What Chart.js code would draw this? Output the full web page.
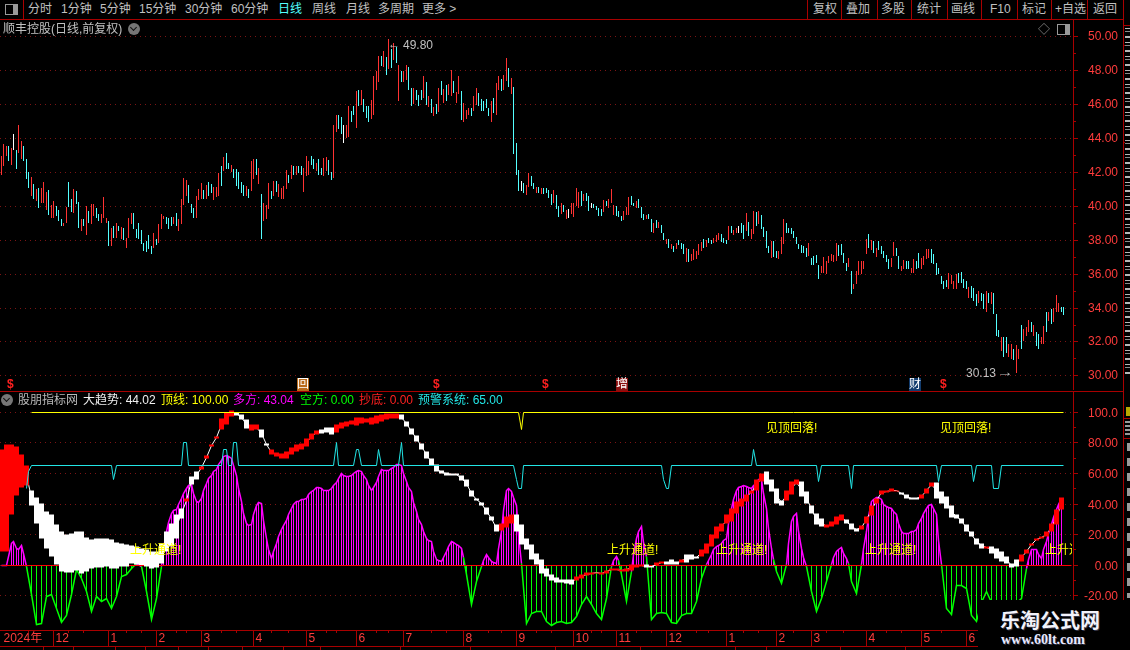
<!DOCTYPE html>
<html>
<head>
<meta charset="utf-8">
<script src="https://cdn.jsdelivr.net/npm/chart.js@4/dist/chart.umd.min.js"></script>
<style>
html, body { margin: 0; padding: 0; background: #000; overflow: hidden; }
#page { position: relative; width: 1130px; height: 650px; background: #000; overflow: hidden;
  font: 12px "Liberation Sans", "Noto Sans CJK SC", sans-serif; color: #c0c0c0; }
#page canvas { position: absolute; left: 0; }
.t { position: absolute; white-space: nowrap; line-height: 14px; }
.ln { position: absolute; background: #a80000; }
.dot { position: absolute; width: 12px; height: 12px; border-radius: 6px; background: #767676; }
.dot:after { content: ""; position: absolute; left: 3px; top: 2px; width: 4px; height: 4px;
  border-right: 1px solid #111; border-bottom: 1px solid #111; transform: rotate(45deg); }
.tag { position: absolute; width: 12px; height: 13px; line-height: 13px; text-align: center; color: #fff; }
#plotText { position: absolute; left: 0; top: 392px; width: 1072px; height: 238px; overflow: hidden; }
#mark { position: absolute; left: 978px; top: 600px; width: 152px; height: 50px; background: #000; }
</style>
</head>
<body>
<div id="page">
  <canvas id="priceChart" width="1118" height="370" style="top:20px"></canvas>
  <canvas id="indicatorChart" width="1118" height="254" style="top:392px"></canvas>
  <div id="plotText"></div>
</div>
<script>
// price panel, one entry per trading day
var priceHigh = [
42.92,43.61,43.55,43.51,43.41,44.20,43.27,44.78,43.84,43.51,
42.73,41.98,41.67,41.29,40.96,41.06,41.06,41.39,40.80,40.90,
40.02,40.27,39.98,39.73,39.20,39.00,39.92,41.39,40.37,40.96,
40.86,40.22,39.20,39.24,39.98,39.69,40.08,40.12,39.88,39.49,
39.49,40.51,39.29,39.10,38.71,38.80,39.00,38.80,38.76,38.67,
38.12,39.25,39.59,39.59,38.61,38.96,38.57,37.78,37.90,38.25,37.63,
38.37,38.06,38.90,39.49,39.39,39.35,39.29,39.33,39.35,39.59,
39.20,40.37,41.65,41.51,41.25,40.08,39.84,40.57,41.00,41.35,
40.92,41.20,41.41,41.29,41.12,41.12,41.90,42.37,42.88,43.12,
42.49,42.39,42.14,42.18,41.98,41.41,41.20,41.16,41.00,42.63,
42.73,42.73,42.24,40.67,40.14,40.02,41.35,40.86,41.45,41.45,41.30,
41.06,41.16,42.08,41.80,42.39,42.33,42.37,42.37,42.37,42.24,
42.96,42.63,42.96,42.76,42.49,42.76,42.24,42.82,42.88,42.67,
41.98,44.78,45.37,45.37,45.24,44.73,44.78,45.90,45.57,45.90,
46.75,46.84,46.84,46.31,45.90,45.86,46.25,47.67,47.96,
48.84,48.84,49.14,48.76,49.80,49.25,49.59,49.35,48.31,47.92,
47.92,48.31,48.16,46.94,46.94,46.84,46.55,46.84,47.67,47.27,
46.45,46.31,45.82,46.02,46.94,47.37,46.88,47.10,47.20,47.98,
47.33,46.71,47.67,46.78,46.06,45.63,45.76,45.76,46.45,46.94,
46.65,46.29,46.20,46.29,45.76,46.20,46.35,47.24,47.67,47.47,
47.73,48.71,48.12,47.53,47.00,43.71,42.08,41.45,41.35,41.20,
41.90,41.75,41.35,41.10,41.12,41.05,41.02,41.06,40.90,40.67,40.90,
40.63,39.98,40.18,40.02,39.73,39.78,40.14,40.18,41.02,40.80,
40.86,40.67,40.73,40.57,40.14,40.08,39.98,39.84,39.78,40.31,
40.27,40.37,40.96,40.02,39.98,39.69,39.39,39.69,39.92,40.51,
40.57,40.18,40.27,40.37,39.92,39.49,39.45,39.49,39.24,39.00,
39.14,39.04,38.84,38.37,38.02,38.06,37.73,37.63,37.82,37.96,
37.80,37.73,37.49,37.43,37.14,37.43,37.33,37.73,37.88,38.02,37.96,
38.12,37.96,38.12,38.25,38.37,38.31,38.12,37.98,38.80,38.80,
38.55,38.67,38.80,39.00,38.84,39.55,39.04,
38.61,39.67,39.63,39.67,39.43,38.76,38.51,37.63,37.92,37.92,
37.33,37.33,38.18,39.20,39.00,38.71,38.67,38.51,38.18,37.76,
37.67,37.63,37.53,37.78,36.90,37.04,37.08,36.49,36.45,37.00,36.75,
37.04,37.14,37.08,37.78,37.67,37.73,37.20,36.65,36.94,36.16,
35.37,36.16,36.75,36.75,36.75,38.06,38.31,37.98,37.92,37.53,
37.92,37.63,37.33,37.10,36.88,36.94,37.86,37.53,37.04,36.45,36.78,
36.75,36.75,36.35,36.88,36.75,37.20,36.94,37.04,37.43,37.43,
37.43,37.14,36.61,36.35,35.86,35.57,35.63,36.02,35.90,35.57,
35.96,36.06,36.10,35.67,35.57,35.24,35.27,35.18,34.78,34.98,
34.88,34.78,34.98,34.88,34.92,34.88,33.61,32.69,32.29,32.24,
32.24,31.84,31.84,31.55,31.78,31.55,32.96,32.73,32.88,33.25,
33.12,32.96,32.57,32.43,32.24,32.92,33.75,33.75,33.90,34.00,
34.73,34.25,34.06,34.06];
var priceLow = [
41.80,42.33,42.92,42.63,42.43,43.31,42.14,43.12,42.73,42.63,
41.55,41.06,40.57,40.37,40.27,39.84,40.18,40.18,39.75,39.43,
39.25,39.29,39.39,39.10,38.80,38.80,38.96,39.94,39.65,39.59,
40.08,38.71,38.51,38.80,38.25,38.96,38.90,39.39,39.29,39.10,
39.00,39.29,39.00,37.63,37.63,38.12,38.12,38.51,38.02,37.98,
37.49,38.12,38.90,38.61,38.12,38.06,37.73,37.33,37.30,37.43,37.14,
37.53,37.67,37.82,38.65,39.20,38.90,38.65,38.80,38.90,38.80,
38.51,38.90,40.04,40.57,40.14,39.55,39.29,39.29,40.33,40.37,
40.37,40.37,40.57,40.76,40.33,40.53,40.57,41.16,42.04,42.18,
42.14,41.98,41.61,41.16,40.96,40.73,40.57,40.57,40.47,40.86,
41.55,41.84,41.31,38.02,39.10,39.20,39.78,40.37,40.57,40.80,40.50,
40.37,40.41,40.96,41.35,41.55,41.84,41.80,41.94,41.84,40.80,
41.75,41.80,42.43,42.14,42.04,41.80,41.84,41.75,42.04,41.84,
41.51,41.65,44.33,44.55,44.20,43.71,44.00,44.06,44.92,45.37,
44.59,45.90,45.96,45.51,45.18,44.92,45.14,45.37,46.84,
47.27,48.25,48.16,47.69,48.08,48.12,48.61,48.41,46.20,47.27,
47.27,47.43,46.84,45.86,46.02,46.25,45.86,46.25,46.35,45.96,
45.82,45.47,45.31,45.43,45.51,46.55,46.06,46.16,46.55,46.45,
46.65,46.06,46.61,45.04,44.92,45.12,45.37,45.31,45.57,45.96,
45.90,45.57,45.57,45.76,45.31,44.96,45.47,45.37,46.80,46.78,
46.84,47.33,46.98,46.61,43.02,41.80,40.86,40.86,40.73,40.63,
41.12,41.16,41.00,40.73,40.73,40.70,40.67,40.76,40.47,40.04,40.14,
39.78,39.33,39.49,39.63,39.20,39.25,39.49,39.33,39.98,39.84,
39.98,40.27,40.27,39.69,39.84,39.84,39.75,39.39,39.39,39.63,
39.98,39.84,40.18,39.43,39.39,39.33,39.10,39.16,39.43,39.45,
40.02,39.98,39.84,39.84,39.29,39.16,39.20,39.20,38.45,38.37,
38.71,38.67,38.41,37.96,37.73,37.53,37.43,37.29,37.43,37.67,
37.45,37.14,36.69,36.69,36.75,36.80,36.84,37.08,37.33,37.53,37.57,
37.82,37.73,37.82,37.86,37.98,37.86,37.82,37.73,37.98,38.37,
38.25,38.37,38.41,38.37,38.02,38.51,38.22,
38.06,38.31,38.80,38.90,38.65,38.18,37.53,37.20,36.94,37.00,
36.94,36.88,37.14,37.73,38.37,38.41,38.31,38.08,37.73,37.43,
37.24,37.20,36.98,37.04,36.50,36.49,36.65,35.67,36.02,36.06,35.96,
36.65,36.75,36.69,36.75,37.04,37.08,36.65,36.16,36.39,34.78,
35.08,35.37,35.90,35.96,36.29,37.14,37.53,37.39,37.20,36.98,
37.39,37.14,36.94,36.70,36.29,36.41,37.04,37.04,36.29,36.16,36.25,
36.29,36.29,36.06,36.06,36.29,36.35,36.29,36.49,36.88,36.94,
36.65,36.59,35.90,35.96,35.37,35.12,35.22,35.08,35.37,35.08,
35.12,35.47,35.43,35.18,35.08,34.59,34.59,34.39,34.10,34.29,
34.39,33.90,33.71,34.29,34.20,33.61,32.33,32.24,31.45,31.06,
31.35,31.06,30.96,30.90,30.13,30.96,31.55,32.04,32.33,32.53,
32.53,32.33,31.75,31.55,31.84,31.84,32.53,33.22,33.02,33.16,
33.71,33.75,33.75,33.55];
var priceKinds = (
"rrrcrwcrrc"+"ccrcrcrrrc"+"rrcccrrccr"+"ccrcrcrrcc"+"rrrcrcrcrc"+"rrrccccccc"+"c"+
"rcrrrcccrc"+"rrrrcccrrr"+"crccrrrcrc"+"crcccccrcr"+"rcrcrrrcrcr"+"rrrcrcrccr"+
"rrccrccrrc"+"crrccwrrcc"+"rcrcccrrr"+
"rcrcrcrcrc"+"rrccrcccrc"+"rcrcrcrcrr"+"crrcrrrcrr"+"cccccrcrrc"+"rrcrcccwcr"+
"rccrcrccccr"+"ccrcrwrrrr"+"crccwccccr"+"crrrcccrrr"+"ccrcccrccr"+"crccrcrcrc"+
"ccrcrrrrrcr"+"ccrrrcccrc"+"rrwccrc"+
"rrcrccccrc"+"crrrcccccc"+"cccrccccrrr"+"rrrrccccrc"+"rrrrrrcrcr"+"cccccrrccrr"+
"ccrrccrrrr"+"cccccccrrr"+"rccccrcccr"+"ccrcrcccrc"+"crrcrrcrrr"+"crccrrcrcr"+"rrcc"
).split("");
var priceTicks = [50,48,46,44,42,40,38,36,34,32,30];
var priceMinorTicks = [49,47,45,43,41,39,37,35,33,31];

// indicator panel, one entry per two trading days
var histValues = [
0,0,14.4,11.1,12.9,-1,-19.4,-39,-37.9,-20.5,-19.4,-28.1,-37.3,-32.5,-19.4,-3,-8.5,-17.2,-30.3,-20.5,
-23.7,-21.6,-28.1,-20.5,-7.4,-6.3,-2,1.3,-0.9,-17.2,-35.3,-21.6,-0.9,22,34,36.2,43.8,50.3,52.5,41.6,
43.8,53.6,59,62.3,68.8,71.5,69.9,59,41.6,27.5,26.4,39.4,40.5,17.6,4.6,14.4,23.1,29.6,37.3,41.6,
42.7,43.8,48.1,50.8,50.3,48.6,50.3,54.2,60.1,58,59,61.2,61.2,56.4,49.2,54.2,62.3,61.7,63,65.6,
65.1,54.7,48.1,35.1,26.4,17.6,15.5,3.5,2.4,8.9,15.5,13.7,11.1,-6.3,-25.9,-10.7,-0.9,6.8,2.4,1.3,
22,49.2,48.1,39.4,1,-37.9,-31.4,-30.3,-30.3,-36.8,-39.4,-37.3,-36.8,-37.9,-37.3,-33.6,-25.9,-20.5,-25.9,-31.4,
-35.7,-21.6,-0.9,5.7,-6.3,-23.7,-4.1,17.6,25.3,5.7,-35.7,-31.4,-30.7,-31.4,-37.3,-37.9,-32.5,-31.4,-31.4,-23.7,
-8.5,0.2,6.8,12.2,14.4,17.6,37.3,49.2,51.4,51.4,50.3,53.6,56.2,37.3,11.1,-4.1,-11.8,0.2,28.5,34,
11.1,-0.9,-17.2,-30.3,-21.6,-10.7,0.2,8.9,11.5,4.6,-10.7,-18.3,0.2,22,41.6,44.2,42.7,38.3,37.3,32.9,
22,20.9,22,23.1,30.7,37.3,39.9,32.9,0.2,-28.1,-32,-12.9,-12.9,-15,-32.5,-36.8,-24,-17.2,-24,-24,
-24,-24,-24,-24,-22,-2,10,10,4.6,15.5,26.4,36.2,43.8];
// magenta sticks also stand on the odd days, listed stretch by stretch from its first day
var oddStickStarts = [5,65,193,245,253,283,315,333,345,411];
var oddStickValues = [
[15.5,10.5,8],
[11,28,36,40,47,52,47,41,49,57,61,66,71,71,65,50,34,26,33,41,29,10,9,19,26,33,40,42,43,46,
 49,51,49,49,52,57,59,58,60,62,59,52,51,58,62,62,64,66,60,51,41,30,22,16,9,3,5,12,15,13,5],
[3,5,2,11,36,50,44,20],
[3,3],
[7,22,15],
[3,10,13,16,27,43,51,52,51,52,56,47,24,4],
[14,32,22,5],
[5,10,8,1],
[11,32,43,44,40,38,35,27,21,21,22,27,34,39,37,16],
[4,10,7,10,21,31,40]];
var trendHigh = [
76,78.7,78.7,77.6,72.1,65.1,49.2,44.2,40.5,35.1,32.9,26.4,22,20.3,20.9,22,22.4,18.3,16.6,17.2,
17.2,17.6,16.6,14.8,14.4,13.3,12.9,12.2,11.1,10,8.9,8.9,14.4,22,27.5,32.9,37.3,43.4,58,61.2,
64.5,71.5,79.1,84.5,96.1,100,100.9,100,98.3,95,91.7,91.7,88.5,79.8,75.4,73.9,73.2,74.3,76.9,78.7,
79.8,83,86.3,87.8,88.5,90,90,92.2,93.3,93.9,94.6,96.5,96.5,96.1,96.5,97.6,98.7,99.4,99.4,99.4,
98.3,94.3,89.6,84.8,79.8,74.7,69.9,65.6,61.7,60.6,60.1,60.1,59,55.8,49.2,43.8,41.2,37.7,31.8,26.4,
27.5,31.8,33.3,33.3,26.8,17.6,13.3,7.8,3.5,-2,-5.7,-7.8,-9.2,-9.2,-9.6,-7.4,-5.7,-4.6,-4.6,-4.6,
-5,-3.1,-2,-2,-2.6,-2,0.2,0.7,0.7,0.2,-0.2,1.7,2.6,2.8,3.5,2.4,4.1,6.8,6.8,5.7,
10.5,14.4,20.3,25.3,27.5,32.9,37.3,41.6,43.8,46.4,49.2,55.8,60.1,61.2,55.8,50.3,42.1,49.2,54.7,55.8,
54.7,48.2,39.4,34,30.7,26.4,28.5,31.8,32.9,30.1,27.5,24.2,25.9,31.8,39,43.8,49.2,49.2,49.9,49.2,
47.7,46,44.5,44.5,46.4,50.3,54.2,54.2,48.2,44.9,39.4,32.9,30.7,26.4,22,17.6,14.4,12.2,12.2,11.1,
8.9,5.7,1.3,3.5,6.8,10,14.4,17.6,18.7,22,27.5,36.2,44.2];
var trendLow = [
8.9,8.9,32.9,45.5,50.8,52.1,39.4,27.5,17.6,11.1,5.7,0.2,-4.1,-4.8,-4.8,-3.1,-5.2,-4.1,-2.4,-1.5,
-1.5,-0.9,-2,-2,-0.9,-0.9,1.3,0.7,-0.2,-0.9,-2,-1.5,1.3,8.9,12.2,17.6,30.7,41.6,52.5,55.8,
62.8,69.5,77.4,82.8,88.5,91.7,97.2,97.8,95,89.6,88,88.9,83.5,78.2,72.6,71,69.5,69.9,72.1,74.3,
76,77.6,81.9,85.6,86.3,86.9,85.6,86.9,89.1,90.6,91.7,91.3,92.8,93.5,91.7,92.8,93.9,95.4,96.1,95.7,
95,90.6,85.6,80.8,75.4,69.9,65.1,61.2,59.7,59,59,58.6,55.1,51.4,44.9,42.1,39.4,32.9,29.6,22,
22.7,24.8,27.5,22,13.3,10,3.5,0.2,-5.2,-7.4,-10.2,-11.1,-11.5,-11.8,-12.4,-10,-8.5,-7,-5.9,-5.4,
-5.9,-5.2,-3.5,-3.5,-4.1,-4.1,-3.1,-1.5,-0.9,-1.3,-1.5,-0.2,1.1,0.7,0.7,0.2,2,2,3.5,4.6,
5.7,7.8,12.2,17.6,22,27.5,28.5,34,38.3,41.6,47.1,48.8,54.7,52.5,48.2,40.5,39.4,42.1,46,52.5,
44.9,40.5,34,26.4,25.3,24.6,25.3,26.4,29.6,27,23.1,22,23.1,27.5,32.5,40.5,46,47.7,48.2,48.2,
46,43.8,43.1,43.1,43.8,47.1,51.4,43.8,40.5,37.3,31.2,30.7,27.5,22,18.7,13.3,11.1,10.7,7.8,4.6,
2.8,1.3,-1.5,-0.9,2.8,7.8,12.9,16.1,17.2,18.7,22,26.4,36.2];
// lengths of the alternating red / white stretches of the trend band
var trendRuns = [6,31,1,2,7,3,2,2,10,3,13,20,3,12,14,2,2,3,1,3,13,4,3,5,4,3,8,4,3,10,1,6,9];

var topLineBars = [12,207,208,209,425];
var topLineValues = [100,100,88.5,100,100];
var warnBars = [10,11,12,44,45,46,72,73,74,75,88,89,90,91,92,93,94,95,133,134,135,141,142,143,144,150,151,152,159,160,161,
  205,206,207,208,209,264,265,266,267,268,300,301,302,326,327,328,339,340,341,374,375,376,388,389,390,396,397,399,400,425];
var warnValues = [50,61,65,65,56,65,65,80,80,65,65,75.4,75.4,65,65,80,80,65,65,80,65,65,75.4,75.4,65,65,75.4,65,65,80,65,
  65,56,50,50,65,65,56,50,50,65,65,75.4,65,65,55,65,65,50,65,65,55,65,65,55,65,65,50,50,65,65];
var zeroBars = [0,428];
var zeroValues = [0,0];
var indicatorTicks = [100,80,60,40,20,0,-20];
var indicatorTickLabels = ["100.0","80.00","60.00","40.00","20.00","0.00","-20.00"];
var indicatorMinorTicks = [90,70,50,30,10,-10];

var monthBars = [0,21,43,62,80,101,122,142,161,185,206,229,246,266,290,310,324,346,368,386];
var monthLabels = ["2024年","12","1","2","3","4","5","6","7","8","9","10","11","12","1","2","3","4","5","6"];
var weekBars = [11,27,33,50,56,70,74,88,94,108,115,130,134,150,155,172,178,195,200,214,220,236,240,254,260,278,283,297,303,317,330,337,354,360,376];

var RED = "#ff3232", CYAN = "#54ffff", AXIS_RED = "#a80000", LABEL_RED = "#ff3c3c";
var kindColor = { r: RED, c: CYAN, w: "#ffffff" };

// keep the marks on whole pixels, the original draws them aliased
function snapPixels(offset) {
    return function(scale) {
        var raw = Object.getPrototypeOf(scale).getPixelForValue;
        scale.getPixelForValue = function(v, i) {
            return Math.floor(raw.call(scale, v, i)) + offset;
        };
    };
}
function flatAxis(scale, size) {
    scale.paddingTop = scale.paddingBottom = scale.paddingLeft = scale.paddingRight = 0;
    if (scale.isHorizontal()) scale.height = size; else scale.width = size;
}

// tick marks on the axes, short ones for the in-between values
var axisMarks = {
    id: "axisMarks",
    afterDraw: function(chart, args, opts) {
        var c = chart.ctx, y = chart.scales.y, x = chart.scales.x, a = chart.chartArea;
        c.save();
        c.strokeStyle = AXIS_RED;
        c.lineWidth = 1;
        c.beginPath();
        c.moveTo(a.right + 0.5, a.top);
        c.lineTo(a.right + 0.5, a.bottom);
        opts.major.forEach(function(v) {
            var p = Math.floor(y.getPixelForValue(v)) + 0.5;
            c.moveTo(a.right, p); c.lineTo(a.right + 5, p);
        });
        opts.minor.forEach(function(v) {
            var p = Math.floor(y.getPixelForValue(v)) + 0.5;
            c.moveTo(a.right, p); c.lineTo(a.right + 3, p);
        });
        if (opts.months) {
            monthBars.slice(1).forEach(function(b) {
                var p = x.getPixelForValue(b);
                c.moveTo(p, a.bottom); c.lineTo(p, a.bottom + 16);
            });
            opts.weeks.forEach(function(b) {
                var p = x.getPixelForValue(b);
                c.moveTo(p, a.bottom); c.lineTo(p, a.bottom + 3);
            });
        }
        c.stroke();
        c.restore();
    }
};

function xAxis(shown) {
    var axis = {
        type: "linear", min: -0.52, max: 428.68, display: shown, offset: false,
        afterDataLimits: snapPixels(0.5),
        grid: { display: false, drawTicks: false },
        border: { display: false }
    };
    if (shown) {
        axis.afterBuildTicks = function(s) { s.ticks = monthBars.map(function(b) { return { value: b }; }); };
        axis.afterFit = function(s) { flatAxis(s, 16); };
        axis.ticks = {
            autoSkip: false, maxRotation: 0, align: "start", padding: 1, labelOffset: 2,
            color: LABEL_RED, font: { size: 12, family: '"Liberation Sans","Noto Sans CJK SC"' },
            callback: function(v) { return monthLabels[monthBars.indexOf(v)]; }
        };
    }
    return axis;
}
function yAxis(min, max, ticks, labelOf, snapOffset) {
    return {
        position: "right", min: min, max: max,
        afterDataLimits: snapPixels(snapOffset),
        afterBuildTicks: function(s) { s.ticks = ticks.map(function(v) { return { value: v }; }); },
        afterFit: function(s) { flatAxis(s, 45); },
        grid: { color: "#7c1414", drawTicks: false, lineWidth: 1 },
        border: { display: false, dash: [1, 4] },
        ticks: {
            crossAlign: "far", padding: 0, color: LABEL_RED, autoSkip: false, labelOffset: 1,
            font: { size: 12, family: '"Liberation Sans"' },
            callback: labelOf
        }
    };
}
function baseOptions(x, y, marks) {
    return {
        responsive: false, animation: false, events: [],
        layout: { padding: 0 },
        plugins: { legend: { display: false }, tooltip: { enabled: false }, axisMarks: marks },
        scales: { x: x, y: y }
    };
}

new Chart(document.getElementById("priceChart"), {
    type: "bar",
    plugins: [axisMarks],
    data: { datasets: [{
        data: priceHigh.map(function(h, i) { return { x: i, y: [priceLow[i], h] }; }),
        backgroundColor: priceKinds.map(function(k) { return kindColor[k]; }),
        barThickness: 1, grouped: false, inflateAmount: 0, borderWidth: 0
    }] },
    options: baseOptions(xAxis(false),
        yAxis(29.17, 50.976, priceTicks, function(v) { return v.toFixed(2); }, 0),
        { major: priceTicks, minor: priceMinorTicks })
});

var trendKinds = [];
trendRuns.forEach(function(n, r) {
    for (var j = 0; j < n; j++) trendKinds.push(r % 2 ? "w" : "r");
});
function every2(values) {
    return values.map(function(v, k) { return { x: k * 2, y: v }; });
}
function pairUp(xs, ys) {
    return xs.map(function(b, i) { return { x: b, y: ys[i] }; });
}
var oddSticks = [];
oddStickStarts.forEach(function(start, r) {
    oddStickValues[r].forEach(function(v, j) { oddSticks.push({ x: start + j * 2, y: v }); });
});
var histOutline = every2(histValues).concat(oddSticks).sort(function(a, b) { return a.x - b.x; });

new Chart(document.getElementById("indicatorChart"), {
    type: "bar",
    plugins: [axisMarks],
    data: { datasets: [
        {
            data: every2(histValues),
            backgroundColor: histValues.map(function(v) { return v >= 0 ? "#ff00ff" : "#00ff00"; }),
            barThickness: 1, grouped: false, inflateAmount: 0, borderWidth: 0, order: 8
        },
        {
            data: oddSticks, backgroundColor: "#ff00ff",
            barThickness: 1, grouped: false, inflateAmount: 0, borderWidth: 0, order: 7
        },
        {
            type: "line", data: histOutline, pointRadius: 0, borderWidth: 1.5, tension: 0, order: 6,
            segment: { borderColor: function(c) { return c.p0.parsed.y + c.p1.parsed.y >= 0 ? "#ff00ff" : "#00ff00"; } }
        },
        {
            type: "line", data: pairUp(zeroBars, zeroValues), pointRadius: 0, borderWidth: 1,
            borderColor: "#ff0000", order: 5
        },
        {
            type: "line", data: trendHigh.map(function(h, k) { return { x: k * 2, y: (h + trendLow[k]) / 2 }; }),
            pointRadius: 0, borderWidth: 1, borderColor: "#ffffff", tension: 0, order: 4
        },
        {
            data: trendHigh.map(function(h, k) { return { x: k * 2, y: [trendLow[k], h] }; }),
            backgroundColor: trendKinds.map(function(k) { return k === "r" ? "#ff0000" : "#ffffff"; }),
            barThickness: 5, grouped: false, inflateAmount: 0, borderWidth: 0, order: 3
        },
        {
            type: "line", data: pairUp(topLineBars, topLineValues), pointRadius: 0, borderWidth: 1,
            borderColor: "#ffff00", tension: 0, order: 2
        },
        {
            type: "line", data: pairUp(warnBars, warnValues), pointRadius: 0, borderWidth: 1,
            borderColor: "#22e6e6", tension: 0, order: 1
        }
    ] },
    options: baseOptions(xAxis(true),
        yAxis(-42.3, 113.27, indicatorTicks, function(v) { return indicatorTickLabels[indicatorTicks.indexOf(v)]; }, 0.5),
        { major: indicatorTicks, minor: indicatorMinorTicks, months: true, weeks: weekBars })
});

// the terminal's chrome around the two panels
var page = document.getElementById("page");
function put(text, x, cy, color, parent, extra) {
    var el = document.createElement("div");
    el.className = "t";
    el.textContent = text;
    el.style.left = x + "px";
    el.style.top = (cy - 7) + "px";
    if (color) el.style.color = color;
    if (extra) el.style.cssText += extra;
    (parent || page).appendChild(el);
    return el;
}
function rule(x, y, w, h, color) {
    var el = document.createElement("div");
    el.className = "ln";
    el.style.cssText = "left:" + x + "px;top:" + y + "px;width:" + w + "px;height:" + h + "px;" + (color ? "background:" + color : "");
    page.appendChild(el);
}
function circle(x, y) {
    var el = document.createElement("div");
    el.className = "dot";
    el.style.left = x + "px"; el.style.top = y + "px";
    page.appendChild(el);
}
function tag(text, x, y, bg) {
    var el = document.createElement("div");
    el.className = "tag";
    el.textContent = text;
    el.style.left = x + "px"; el.style.top = y + "px"; el.style.background = bg;
    page.appendChild(el);
}

var menuLeft = [["分时",28],["1分钟",61],["5分钟",100],["15分钟",139],["30分钟",185],["60分钟",231],["日线",278,CYAN],["周线",312],["月线",346],["多周期",378],["更多 >",422]];
var menuRight = [["复权",813],["叠加",846],["多股",881],["统计",917],["画线",951],["F10",990],["标记",1022],["+自选",1055],["返回",1093]];
menuLeft.concat(menuRight).forEach(function(m) { put(m[0], m[1], 9, m[2]); });
[807,841,877,911,947,981,1017,1051,1087].forEach(function(x) { rule(x, 0, 1, 19); });
rule(0, 19, 1123, 1);
rule(23, 0, 1, 19);
rule(1123, 0, 1, 650);
rule(0, 391, 1123, 1);
rule(0, 630, 1073, 1);
rule(0, 646, 1123, 1);
[25,45,142,239,336,418,438].forEach(function(y) { rule(1123, y, 7, 1); });
[43,73,115,145,178,208,242,283,320,400,470,555,640,735,766,840,905].forEach(function(x) { rule(x, 646, 1, 4); });

// clipped side list at the window edge, only slivers of it are visible
function sliver(x, y, w, h, css) {
    var el = document.createElement("div");
    el.style.cssText = "position:absolute;left:" + x + "px;top:" + y + "px;width:" + w + "px;height:" + h + "px;background:" + css;
    page.appendChild(el);
}
sliver(1125, 28, 5, 350, "repeating-linear-gradient(#b8b8b8 0 1px,#000 1px 3px,#8c8c8c 3px 4px,#000 4px 8px,#b8b8b8 8px 10px,#000 10px 14px)");
sliver(1126, 407, 4, 9, "#b8a800");
sliver(1125, 421, 5, 14, "repeating-linear-gradient(#999 0 2px,#000 2px 4px)");
sliver(1127, 443, 3, 155, "repeating-linear-gradient(#9a9a9a 0 8px,#000 8px 15px)");

// panel headings
put("顺丰控股(日线,前复权)", 3, 29);
circle(128, 23);
put("◇", 1038, 30, "#8a8a8a");
var box = document.createElement("div");
box.style.cssText = "position:absolute;left:1057px;top:24px;width:11px;height:9px;border:1px solid #999;background:linear-gradient(90deg,#000 60%,#999 60%)";
page.appendChild(box);
var boxLeft = box.cloneNode();
boxLeft.style.left = "5px"; boxLeft.style.top = "4px";
page.appendChild(boxLeft);

circle(1, 394);
[["股朋指标网",18,"#b8b8b8"],["大趋势: 44.02",83,"#f0f0f0"],["顶线: 100.00",161,"#ffff00"],["多方: 43.04",233,"#ff00ff"],
 ["空方: 0.00",300,"#00ff00"],["抄底: 0.00",359,"#ff2020"],["预警系统: 65.00",418,"#22e6e6"]].forEach(function(h) {
    put(h[0], h[1], 400, h[2]);
});

// event markers under the candles
[10,436,545,943].forEach(function(x) { put("$", x - 3, 384, "#ff2020", null, "font-weight:bold"); });
tag("回", 297, 378, "#b86a1a");
tag("增", 616, 378, "#8a1010");
tag("财", 909, 378, "#123c6e");

// price extremes
put("←", 388, 44, "#c0c0c0");
put("49.80", 403, 45, "#c0c0c0");
put("30.13", 966, 373, "#c0c0c0");
put("→", 997, 372, "#c0c0c0", null, "transform:scaleX(1.4);transform-origin:left");

// signal texts on the indicator
var plotText = document.getElementById("plotText");
[[130,158],[607,158],[716,158],[865,158],[1045,158]].forEach(function(s) { put("上升通道!", s[0], s[1], "#ffff00", plotText); });
[[766,36],[940,36]].forEach(function(s) { put("见顶回落!", s[0], s[1], "#ffff00", plotText); });

// site stamp in the corner
var mark = document.createElement("div");
mark.id = "mark";
page.appendChild(mark);
put("乐淘公式网", 1000, 619, "#f2f2fa", null, 'font:bold 20px/20px "Noto Sans CJK SC";top:610px;text-shadow:1px 1px 0 #334');
put("www.60lt.com", 1001, 640, "#e8e8ff", null, 'font:bold 14px/14px "Liberation Serif";text-shadow:1px 1px 0 #334');
</script>
</body>
</html>
